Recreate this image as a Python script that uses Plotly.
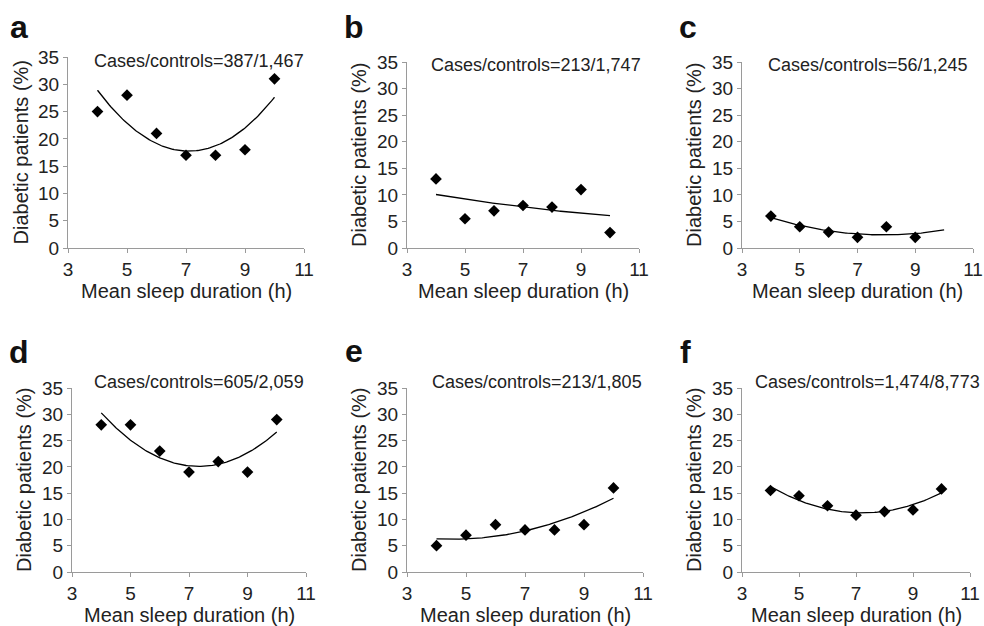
import numpy as np
import plotly.graph_objects as go

# ---------------- data ----------------
sleep_hours = [4, 5, 6, 7, 8, 9, 10]
sleep_hours_c = [4, 5, 6, 7, 8, 9]

diabetic_a = [25, 28, 21, 17, 17, 18, 31]
diabetic_b = [13, 5.5, 7, 8, 7.7, 11, 2.9]
diabetic_c = [6, 4, 3, 2, 4, 2]
diabetic_d = [28, 28, 23, 19, 21, 19, 29]
diabetic_e = [5, 7, 9, 8, 8, 9, 16]
diabetic_f = [15.5, 14.5, 12.6, 10.8, 11.5, 11.8, 15.8]

panel_letters = ["a", "b", "c", "d", "e", "f"]
case_labels = [
    "Cases/controls=387/1,467",
    "Cases/controls=213/1,747",
    "Cases/controls=56/1,245",
    "Cases/controls=605/2,059",
    "Cases/controls=213/1,805",
    "Cases/controls=1,474/8,773",
]
x_tick_vals = [3, 5, 7, 9, 11]
y_tick_vals = [0, 5, 10, 15, 20, 25, 30, 35]
x_range = [3, 11]
y_range = [0, 35]
trend_span = [4, 10]
x_title = "Mean sleep duration (h)"
y_title = "Diabetic patients (%)"

panel_x = [sleep_hours, sleep_hours, sleep_hours_c, sleep_hours, sleep_hours, sleep_hours]
panel_y = [diabetic_a, diabetic_b, diabetic_c, diabetic_d, diabetic_e, diabetic_f]

# ---------------- layout (pixel geometry) ----------------
W, H = 984, 626
# (left, right, top, bottom) of each plot area, in pixels
boxes = [
    (68, 304, 57, 248),
    (407, 639, 62, 248),
    (742, 973, 62, 248),
    (72, 306, 388, 572),
    (407, 643, 388, 572),
    (742, 970, 388, 572),
]
letter_pos = [(19, 27), (354, 27), (688, 27), (19, 352), (354, 351), (685, 352)]
case_pos = [(199, 61), (536, 65), (868, 65), (199, 382), (537, 382), (867, 382)]

FONT = "Liberation Sans, Arial, Helvetica, sans-serif"
TXT = "#222222"
AX = "#9a9a9a"


def px(x):
    return x / W


def py(y):
    return 1 - y / H


fig = go.Figure()
annotations = []

for i in range(6):
    l, r, t, b = boxes[i]
    sfx = "" if i == 0 else str(i + 1)
    xa, ya = "x" + sfx, "y" + sfx

    xs = np.array(panel_x[i], dtype=float)
    ys = np.array(panel_y[i], dtype=float)
    coef = np.polyfit(xs, ys, 2)
    tx = np.linspace(trend_span[0], trend_span[1], 121)
    ty = np.polyval(coef, tx)

    fig.add_trace(go.Scatter(x=tx, y=ty, mode="lines",
                             line=dict(color="black", width=1.3),
                             xaxis=xa, yaxis=ya, showlegend=False, hoverinfo="skip"))
    fig.add_trace(go.Scatter(x=xs, y=ys, mode="markers",
                             marker=dict(symbol="diamond", size=9, color="black",
                                         line=dict(width=0)),
                             xaxis=xa, yaxis=ya, showlegend=False))

    axis_common = dict(showline=True, linecolor=AX, linewidth=1, ticks="outside",
                       ticklen=4, tickcolor=AX, tickwidth=1, showgrid=False,
                       zeroline=False, automargin=False,
                       tickfont=dict(family=FONT, size=19, color=TXT))
    fig.update_layout(**{
        "xaxis" + sfx: dict(domain=[px(l), px(r)], range=x_range, tickvals=x_tick_vals,
                            anchor=ya, **axis_common),
        "yaxis" + sfx: dict(domain=[py(b), py(t)], range=y_range, tickvals=y_tick_vals,
                            anchor=xa, **axis_common),
    })

    # panel letter
    lx, ly = letter_pos[i]
    annotations.append(dict(x=px(lx), y=py(ly), xref="paper", yref="paper",
                            text="<b>%s</b>" % panel_letters[i], showarrow=False,
                            xanchor="center", yanchor="middle",
                            font=dict(family=FONT, size=32, color="#111111")))
    # cases/controls
    cx, cy = case_pos[i]
    annotations.append(dict(x=px(cx), y=py(cy), xref="paper", yref="paper",
                            text=case_labels[i], showarrow=False,
                            xanchor="center", yanchor="middle",
                            font=dict(family=FONT, size=18, color=TXT)))
    # x title
    annotations.append(dict(x=px((l + r) / 2), y=py(b + 43), xref="paper", yref="paper",
                            text=x_title, showarrow=False, xanchor="center", yanchor="middle",
                            font=dict(family=FONT, size=20, color=TXT)))
    # y title
    annotations.append(dict(x=px(l - 48), y=py((t + b) / 2), xref="paper", yref="paper",
                            text=y_title, showarrow=False, textangle=-90,
                            xanchor="center", yanchor="middle",
                            font=dict(family=FONT, size=20, color=TXT)))

fig.update_layout(template="none", width=W, height=H,
                  margin=dict(l=0, r=0, t=0, b=0, autoexpand=False),
                  paper_bgcolor="white", plot_bgcolor="white",
                  annotations=annotations, showlegend=False)

fig.write_html("out.html", config={"displayModeBar": False},
               post_script="document.body.style.margin='0';document.body.style.overflow='hidden';")
